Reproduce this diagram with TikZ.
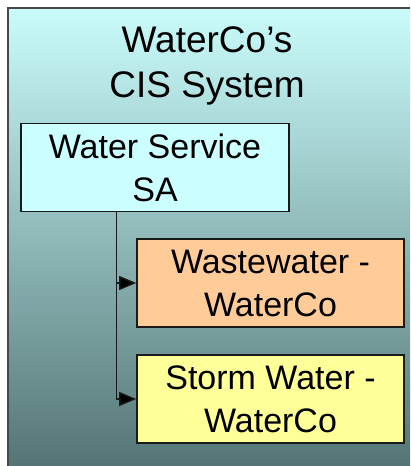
\documentclass[tikz,border=0pt]{standalone}
\usepackage{fontspec}
\setmainfont{Liberation Sans}
\usetikzlibrary{arrows.meta, calc, positioning}
\usepackage{xcolor}
\definecolor{panelTop}{HTML}{CAFCFC}
\definecolor{panelMid}{HTML}{9CC8C8}
\definecolor{panelBot}{HTML}{557575}
\definecolor{wsFill}{HTML}{CCFFFF}
\definecolor{wasteFill}{HTML}{FFCC99}
\definecolor{stormFill}{HTML}{FFFF99}
\definecolor{edgeGray}{HTML}{1A1A1A}

\begin{document}
\begin{tikzpicture}[
  x=1pt, y=-1pt,
  box/.style={rectangle, draw=edgeGray, line width=1.6pt,
    minimum width=268pt, minimum height=88pt, inner sep=0pt,
    align=center, font=\fontsize{34}{43}\selectfont},
  title/.style={align=center, inner sep=0pt,
    font=\fontsize{37}{45}\selectfont},
  link/.style={draw=edgeGray, line width=1.3pt,
    -{Triangle[length=17pt, width=14pt, fill=black]}}
]
\useasboundingbox (0,0) rectangle (410,466);

% panel
\shade[top color=panelTop, middle color=panelMid, bottom color=panelBot]
  (8,8) rectangle (410,466);
\draw[edgeGray!80, line width=1.5pt] (8,466) -- (8,8) -- (410,8);

\node[title] (sys) at (207,66) {WaterCo’s\\CIS System};

\node[box, fill=wsFill] (ws) at (155,167.5) {Water Service\\SA};
\node[box, fill=wasteFill, minimum width=267pt] (waste) at (270.5,283) {Wastewater -\\WaterCo};
\node[box, fill=stormFill, minimum width=267pt] (storm) at (270.5,399) {Storm Water -\\WaterCo};

\coordinate (trunk) at ($(ws.south west)+(96,0)$);
\draw[link] (trunk) |- (waste.west);
\draw[link] (trunk) |- (storm.west);

\end{tikzpicture}
\end{document}
